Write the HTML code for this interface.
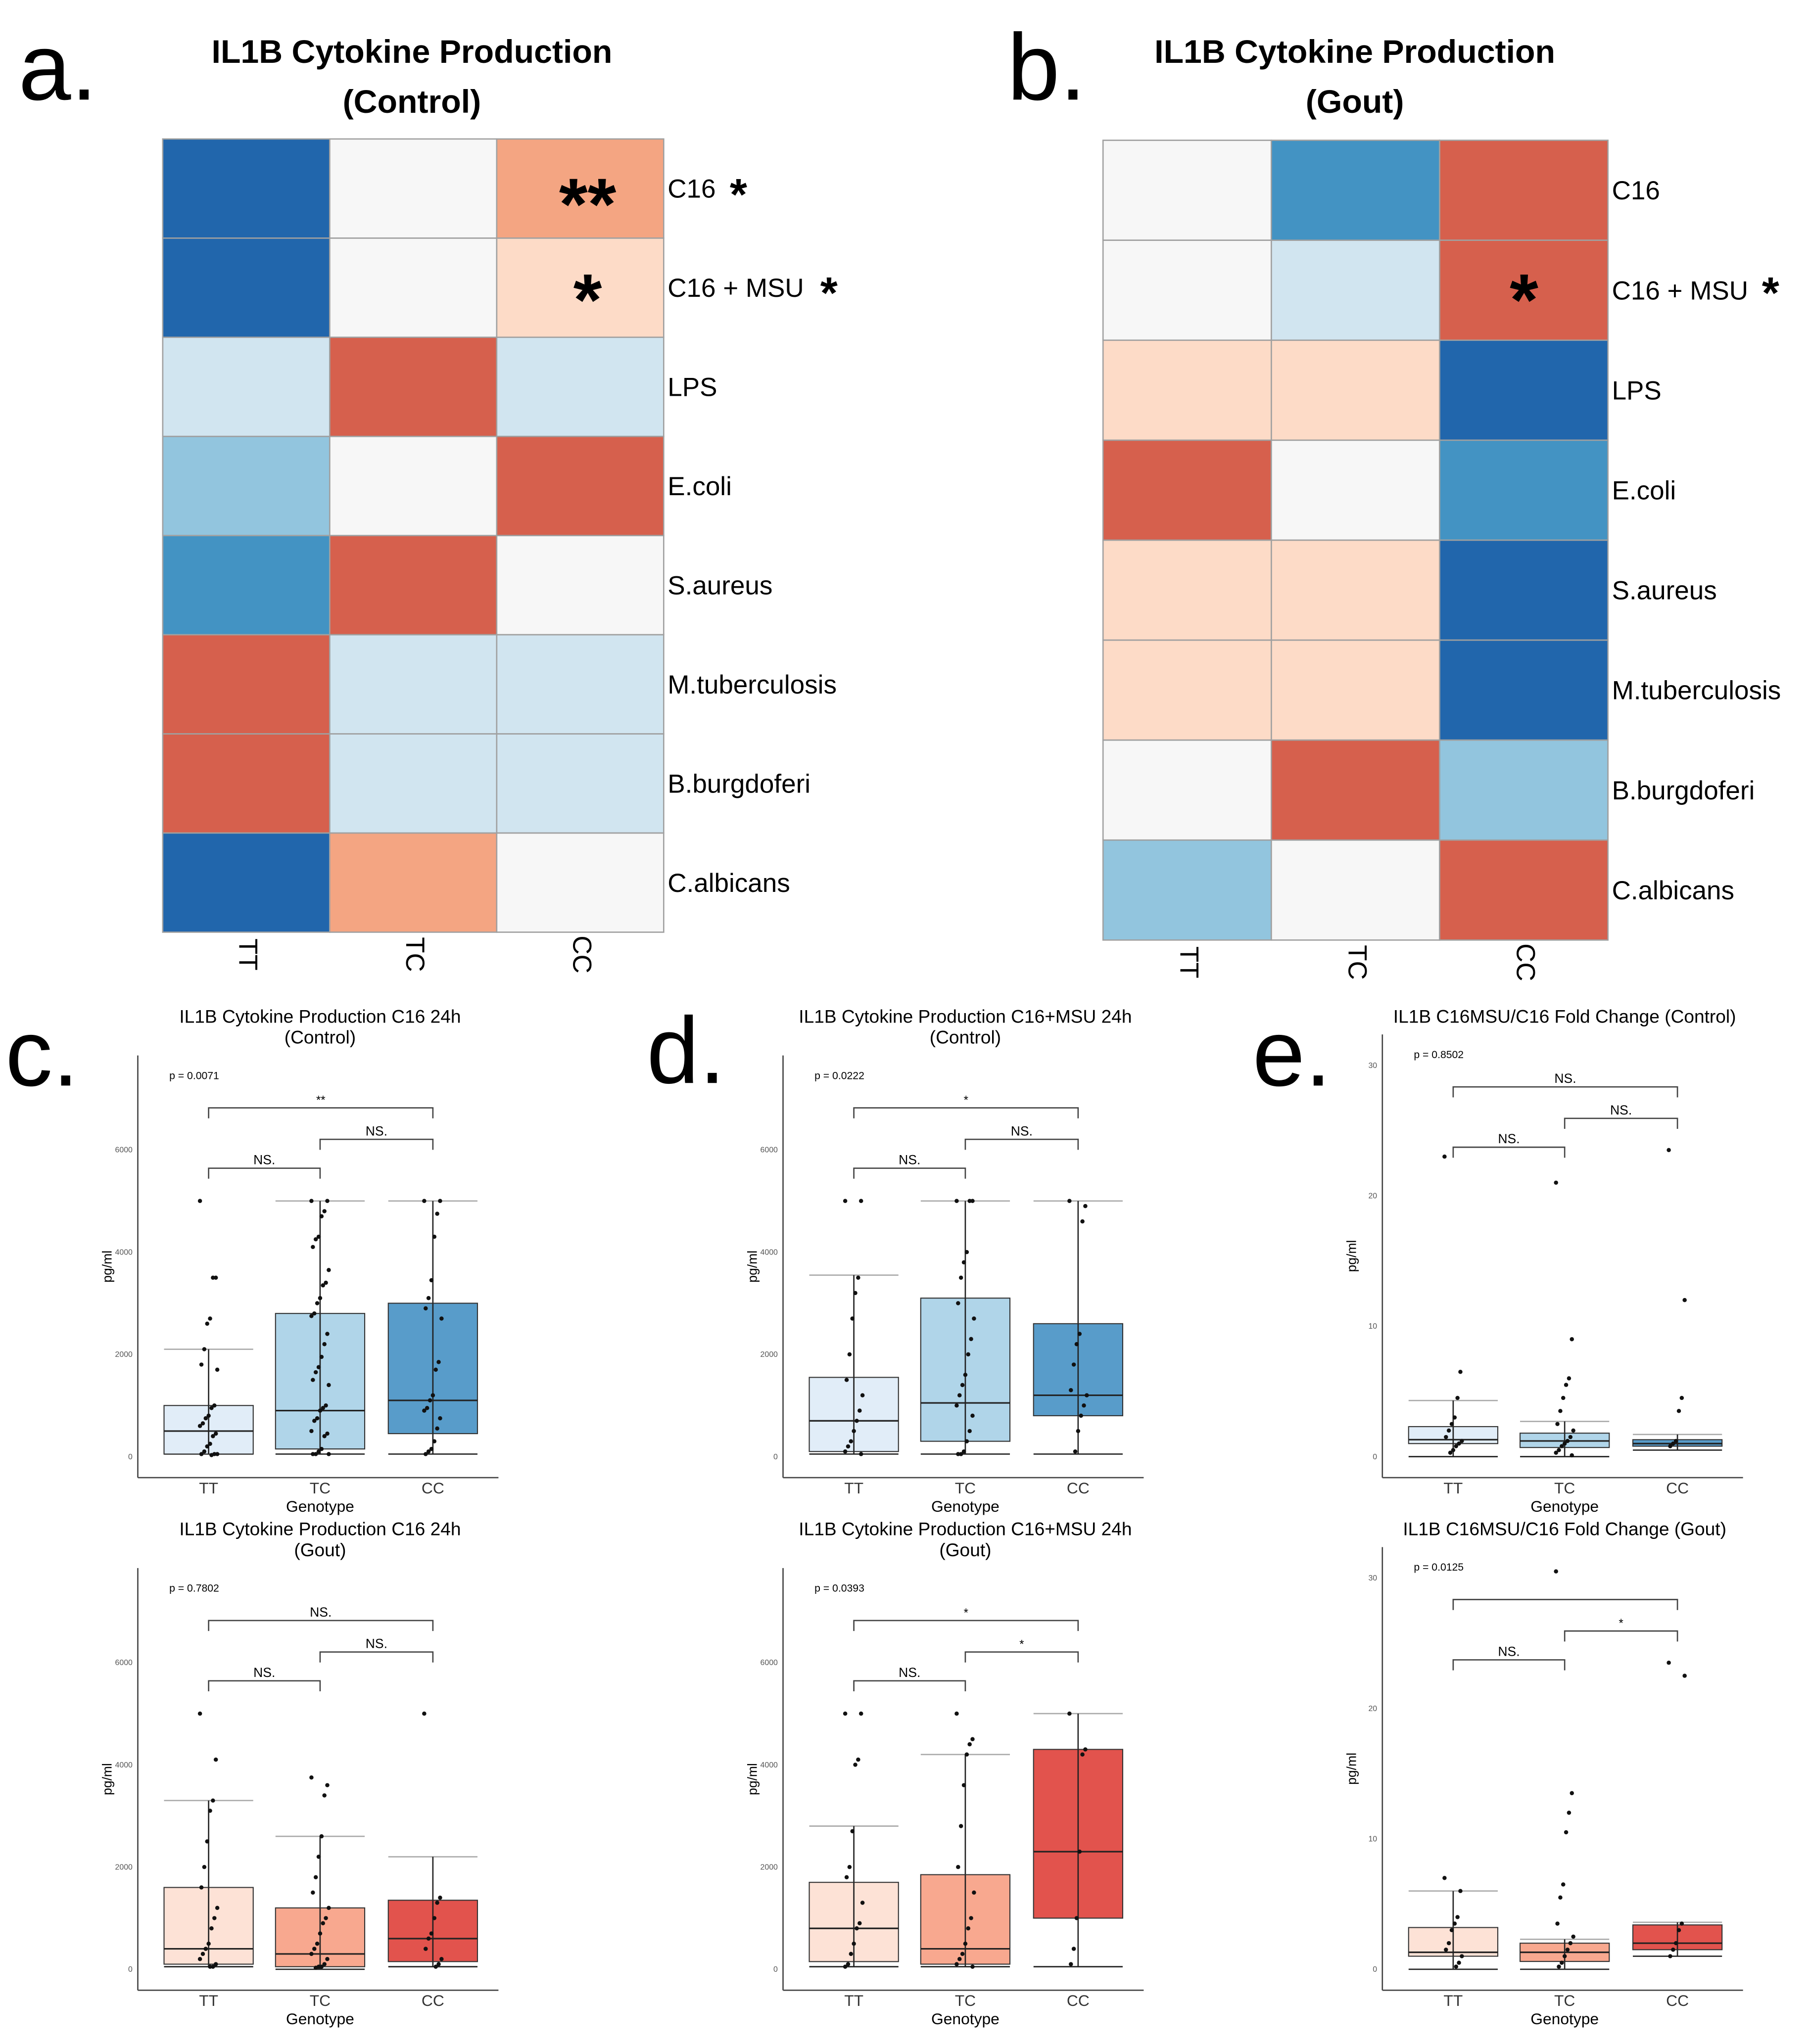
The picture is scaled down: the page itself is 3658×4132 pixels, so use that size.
<!DOCTYPE html>
<html><head><meta charset="utf-8"><style>
html,body{margin:0;padding:0;background:#fff;}
svg{display:block;font-family:"Liberation Sans",sans-serif;}
</style></head><body>
<svg id="fig" width="3658" height="4132" viewBox="0 0 1380 1559" xmlns="http://www.w3.org/2000/svg">
<rect width="1380" height="1559" fill="#fff"/>
<g id="heat"></g>
<g id="boxes"></g>
</svg>
<script>
// ---------- heatmap data ----------
const heatRows = ["C16","C16 + MSU","LPS","E.coli","S.aureus","M.tuberculosis","B.burgdoferi","C.albicans"];
const heatCols = ["TT","TC","CC"];
const heatControl = [[-4,0,2],[-4,0,1],[-1,3,-1],[-2,0,3],[-3,3,0],[3,-1,-1],[3,-1,-1],[-4,2,0]];
const heatGout = [[0,-3,3],[0,-1,3],[1,1,-4],[3,0,-3],[1,1,-4],[1,1,-4],[0,3,-2],[-2,0,3]];
const heatLevels = [-4,-3,-2,-1,0,1,2,3];
const heatColors = ["#2166ac","#4393c3","#92c5de","#d1e5f0","#f7f7f7","#fddbc7","#f4a582","#d6604d"];

// ---------- boxplot data ----------
const groups = ["TT","TC","CC"];
const cTopStats = [[50,50,500,1000,2100],[50,150,900,2800,5000],[50,450,1100,3000,5000]];
const cBotStats = [[50,100,400,1600,3300],[0,50,300,1200,2600],[50,150,600,1350,2200]];
const dTopStats = [[50,100,700,1550,3550],[50,300,1050,3100,5000],[50,800,1200,2600,5000]];
const dBotStats = [[50,150,800,1700,2800],[50,100,400,1850,4200],[50,1000,2300,4300,5000]];
const eTopStats = [[0,1,1.3,2.3,4.3],[0,0.7,1.2,1.8,2.7],[0.5,0.8,1,1.3,1.7]];
const eBotStats = [[0,1,1.3,3.2,6],[0,0.6,1.3,2,2.3],[1,1.5,2,3.4,3.6]];
const cTopPts = [[5000,3500,3500,2700,2600,2100,1800,1700,1000,950,800,750,650,600,450,400,250,200,100,50,50,50,30],
 [5000,5000,4800,4700,4300,4250,4100,3650,3400,3350,3100,3000,2800,2750,2400,2200,1950,1750,1650,1500,1400,1000,950,900,750,700,500,450,400,150,100,50,50,50],
 [5000,5000,4750,4300,3450,3100,2900,2700,1850,1700,1200,1100,950,900,750,550,300,150,100,50]];
const cBotPts = [[5000,4100,3300,3100,2500,2000,1600,1200,1000,800,500,400,300,200,100,50,50],
 [3750,3600,3400,2600,2200,1800,1500,1200,1000,900,700,500,400,300,200,100,50,50,30],
 [5000,1400,1300,1000,700,600,400,200,100,50]];
const dTopPts = [[5000,5000,3500,3200,2700,2000,1500,1200,900,700,500,300,200,100,50],
 [5000,5000,5000,4000,3800,3500,3000,2700,2300,2000,1600,1400,1200,1000,800,500,300,100,50,50],
 [5000,4900,4600,2400,2200,1800,1300,1200,1000,800,500,100]];
const dBotPts = [[5000,5000,4100,4000,2700,2000,1800,1300,900,800,500,300,100,50],
 [5000,4500,4400,4200,3600,2800,2000,1500,1000,800,500,300,200,100,50],
 [5000,4300,4200,2300,1000,400,100]];
const eTopPts = [[23,6.5,4.5,3,2.5,2,1.5,1.2,1,0.8,0.5,0.3],
 [21,9,6,5.5,4.5,3.5,2.5,2,1.5,1.2,1,0.8,0.5,0.3,0.1],
 [23.5,12,4.5,3.5,1.2,1,0.8]];
const eBotPts = [[7,6,4,3.5,3,2,1.5,1,0.5,0.2],
 [30.5,13.5,12,10.5,6.5,5.5,3.5,2.5,2,1.5,1,0.5,0.2],
 [23.5,22.5,3.5,3,2,1.5,1]];
const pgTicks = [0,2000,4000,6000];
const pgTickLabels = ["0","2000","4000","6000"];
const fcTicks = [0,10,20,30];
const fcTickLabels = ["0","10","20","30"];

const NS = "http://www.w3.org/2000/svg";
function el(tag, attrs, parent, text){
  const e = document.createElementNS(NS, tag);
  for (const k in attrs) e.setAttribute(k, attrs[k]);
  if (text !== undefined) e.textContent = text;
  parent.appendChild(e);
  return e;
}
const heatG = document.getElementById('heat');
const boxG = document.getElementById('boxes');

function colorFor(v){ return heatColors[heatLevels.indexOf(v)]; }

function heatmap(x0,y0,w,h,data,key,stars){
  const g = el('g',{},heatG);
  
  
  const cw = w/3, rh = h/heatRows.length;
  data.forEach((row,r)=>row.forEach((v,c)=>{
    const cell = el('rect',{x:x0+c*cw,y:y0+r*rh,width:cw,height:rh,fill:colorFor(v),stroke:"#a0a0a0","stroke-width":1},g);
    
    
  }));
  heatRows.forEach((n,r)=>{
    const t = el('text',{x:x0+w+3,y:y0+(r+0.5)*rh+7,"font-size":20,fill:"#000"},g,n);
    
    
  });
  heatCols.forEach((n,c)=>{
    const cx = x0+(c+0.5)*cw, cy = y0+h+17;
    const t = el('text',{x:cx,y:cy,"font-size":20,"text-anchor":"middle",transform:`rotate(90 ${cx} ${cy})`,"dominant-baseline":"middle"},g,n);
    
    
  });
  stars.forEach(s=>{
    const t = el('text',{x:s[0],y:s[1],"font-size":s[3],"font-weight":"bold","text-anchor":"middle"},g,s[2]);
    
    
  });
}
heatmap(124,106,382,605,heatControl,'control',[[448,175,"**",56],[448,248,"*",56],[563,160,"*",34],[632,235,"*",34]]);
heatmap(841,107,385,610,heatGout,'gout',[[1162,248,"*",56],[1350,235,"*",34]]);

function title(x,y,lines,key){
  lines.forEach((l,i)=>{
    const t = el('text',{x:x,y:y+i*38,"font-size":25,"font-weight":"bold","text-anchor":"middle"},heatG,l);
    
    
  });
}
title(314,48,["IL1B Cytokine Production","(Control)"],'heatmap-a');
title(1033,48,["IL1B Cytokine Production","(Gout)"],'heatmap-b');

function letter(x,y,s){
  const t = el('text',{x:x,y:y,"font-size":72},heatG,s);
  
  
}
letter(14,76,"a."); letter(768,76,"b."); letter(4,828,"c."); letter(493,826,"d."); letter(955,828,"e.");

function boxplot(o){
  const g = el('g',{},boxG);
  
  
  const ax = o.ax, top = o.top, base = o.base;
  const y = v => o.y0 - v*o.k;
  const gx = [ax+54, ax+139, ax+225];
  const bw = 68;
  const ty0 = o.title.length === 1 ? top-9 : top-25;
  o.title.forEach((l,i)=>{
    const t = el('text',{x:ax+139,y:ty0+i*16,"font-size":14,"text-anchor":"middle"},g,l);
    
    
  });
  const a1 = el('line',{x1:ax,y1:top,x2:ax,y2:base,stroke:"#444","stroke-width":1},g);
   
  const a2 = el('line',{x1:ax,y1:base,x2:ax+275,y2:base,stroke:"#444","stroke-width":1},g);
   
  o.ticks.forEach((tv,i)=>{
    const t = el('text',{x:ax-4,y:y(tv)+2,"font-size":6,"text-anchor":"end",fill:"#555"},g,o.tickLabels[i]);
     
  });
  const yl = el('text',{x:ax-20,y:(top+base)/2,"font-size":10,"text-anchor":"middle",transform:`rotate(-90 ${ax-20} ${(top+base)/2})`},g,"pg/ml");
   
  groups.forEach((n,i)=>{
    const t = el('text',{x:gx[i],y:base+12,"font-size":12,"text-anchor":"middle",fill:"#333"},g,n);
     
  });
  const xl = el('text',{x:gx[1],y:base+26,"font-size":12,"text-anchor":"middle"},g,"Genotype");
   
  const p = el('text',{x:ax+24,y:top+18,"font-size":8},g,o.p);
   
  o.stats.forEach((s,i)=>{
    const cx = gx[i];
    const cap = el('line',{x1:cx-bw/2,x2:cx+bw/2,y1:y(s[4]),y2:y(s[4]),stroke:"#aaa","stroke-width":1},g);
     
    const cap2 = el('line',{x1:cx-bw/2,x2:cx+bw/2,y1:y(s[0]),y2:y(s[0]),stroke:"#222","stroke-width":1},g);
     
    const wl = el('line',{x1:cx,x2:cx,y1:y(s[0]),y2:y(s[4]),stroke:"#222","stroke-width":1},g);
     
    const r = el('rect',{x:cx-bw/2,y:y(s[3]),width:bw,height:y(s[1])-y(s[3]),fill:o.colors[i],"fill-opacity":0.92,stroke:"#333","stroke-width":0.8},g);
     
    const md = el('line',{x1:cx-bw/2,x2:cx+bw/2,y1:y(s[2]),y2:y(s[2]),stroke:"#222","stroke-width":1.2},g);
     
    const wl2 = el('line',{x1:cx,x2:cx,y1:y(s[1]),y2:y(s[3]),stroke:"#222","stroke-width":1},g);
     
  });
  o.pts.forEach((arr,i)=>arr.forEach((v,j)=>{
    const jit = ((j*37)%13-6)*1.1;
    const c = el('circle',{cx:gx[i]+jit,cy:y(v),r:1.6,fill:"#111"},g);
     
  }));
  const br = [[0,2,top+40,o.sig[0]],[1,2,top+64,o.sig[1]],[0,1,top+86,o.sig[2]]];
  br.forEach(b=>{
    const x1=gx[b[0]], x2=gx[b[1]], by=b[2];
    const pl = el('polyline',{points:`${x1},${by+8} ${x1},${by} ${x2},${by} ${x2},${by+8}`,fill:"none",stroke:"#444","stroke-width":1},g);
     
    const t = el('text',{x:(x1+x2)/2,y:by-3,"font-size":b[3]==="NS."?10:9,"text-anchor":"middle"},g,b[3]);
     
  });
}
const blues = ["#deebf7","#a9d1e7","#4a94c6"];
const reds = ["#fde0d2","#f7a185","#e0443e"];
boxplot({key:'boxplot-c-control',ax:105,top:805,base:1127,y0:1111,k:0.039,ticks:pgTicks,tickLabels:pgTickLabels,stats:cTopStats,pts:cTopPts,colors:blues,p:"p = 0.0071",sig:["**","NS.","NS."],title:["IL1B Cytokine Production C16 24h","(Control)"]});
boxplot({key:'boxplot-c-gout',ax:105,top:1196,base:1518,y0:1502,k:0.039,ticks:pgTicks,tickLabels:pgTickLabels,stats:cBotStats,pts:cBotPts,colors:reds,p:"p = 0.7802",sig:["NS.","NS.","NS."],title:["IL1B Cytokine Production C16 24h","(Gout)"]});
boxplot({key:'boxplot-d-control',ax:597,top:805,base:1127,y0:1111,k:0.039,ticks:pgTicks,tickLabels:pgTickLabels,stats:dTopStats,pts:dTopPts,colors:blues,p:"p = 0.0222",sig:["*","NS.","NS."],title:["IL1B Cytokine Production C16+MSU 24h","(Control)"]});
boxplot({key:'boxplot-d-gout',ax:597,top:1196,base:1518,y0:1502,k:0.039,ticks:pgTicks,tickLabels:pgTickLabels,stats:dBotStats,pts:dBotPts,colors:reds,p:"p = 0.0393",sig:["*","*","NS."],title:["IL1B Cytokine Production C16+MSU 24h","(Gout)"]});
boxplot({key:'boxplot-e-control',ax:1054,top:789,base:1127,y0:1111,k:9.95,ticks:fcTicks,tickLabels:fcTickLabels,stats:eTopStats,pts:eTopPts,colors:blues,p:"p = 0.8502",sig:["NS.","NS.","NS."],title:["IL1B C16MSU/C16 Fold Change (Control)"]});
boxplot({key:'boxplot-e-gout',ax:1054,top:1180,base:1518,y0:1502,k:9.95,ticks:fcTicks,tickLabels:fcTickLabels,stats:eBotStats,pts:eBotPts,colors:reds,p:"p = 0.0125",sig:["","*","NS."],title:["IL1B C16MSU/C16 Fold Change (Gout)"]});
</script>
</body></html>
